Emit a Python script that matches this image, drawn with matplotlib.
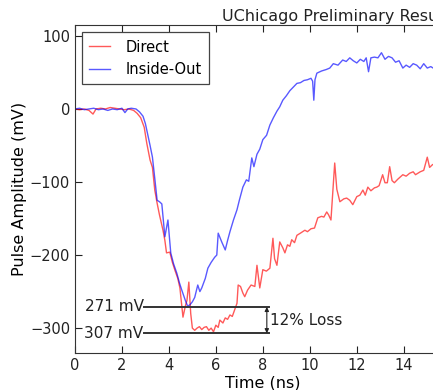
import matplotlib
matplotlib.use('Agg')
import matplotlib.pyplot as plt

# Inside-Out pulse (ns, mV)
blue_t = [0.0, 0.2, 0.4, 0.6, 0.8, 1.0, 1.2, 1.4, 1.6, 1.8, 2.0, 2.13, 2.25, 2.4, 2.6,
          2.75, 2.9, 3.0, 3.1, 3.2, 3.3, 3.4, 3.5, 3.6, 3.7, 3.83, 3.96, 4.08, 4.2, 4.34,
          4.45, 4.55, 4.7, 4.8, 4.9, 5.0, 5.1, 5.23, 5.32, 5.4, 5.55, 5.66, 5.8, 5.95,
          6.04, 6.1, 6.25, 6.4, 6.5, 6.6, 6.75, 6.9, 7.0, 7.15, 7.3, 7.4, 7.53, 7.62,
          7.75, 7.87, 8.0, 8.16, 8.3, 8.45, 8.6, 8.72, 8.85, 9.0, 9.15, 9.3, 9.45, 9.6,
          9.75, 9.9, 10.05, 10.12, 10.17, 10.22, 10.3, 10.5, 10.7, 10.85, 11.0, 11.2,
          11.4, 11.55, 11.7, 11.85, 12.0, 12.15, 12.3, 12.4, 12.5, 12.6, 12.75, 12.9,
          13.05, 13.2, 13.35, 13.5, 13.65, 13.8, 13.96, 14.1, 14.25, 14.4, 14.55, 14.7,
          14.85, 15.0, 15.15, 15.3, 15.5, 16.0]
blue_v = [0, 1, -1, 0, 1, -1, 0, -2, 0, -1, 1, -5, 0, 1, 0,
          -4, -10, -20, -35, -50, -66, -95, -125, -127, -130, -175, -152, -197, -212, -225,
          -238, -248, -262, -270, -268, -264, -258, -241, -250, -245, -232, -218, -210, -203,
          -200, -170, -182, -193, -180, -168, -152, -138, -125, -107, -97, -99, -67, -79,
          -62, -55, -42, -36, -22, -12, -3, 3, 12, 18, 25, 30, 35, 36,
          39, 40, 42, 38, 12, 40, 49, 52, 54, 56, 62, 60,
          67, 65, 70, 66, 63, 68, 65, 70, 51, 70, 71, 70,
          77, 68, 72, 70, 64, 66, 56, 60, 57, 62, 60, 55,
          62, 56, 58, 55, 58, 56]

# Direct pulse (ns, mV)
red_t = [0.0, 0.2, 0.4, 0.6, 0.77, 0.9, 1.1, 1.3, 1.5, 1.7, 1.9, 2.1, 2.3, 2.5, 2.65,
         2.8, 2.95, 3.06, 3.2, 3.3, 3.4, 3.5, 3.6, 3.75, 3.83, 3.9, 4.04, 4.15, 4.26,
         4.38, 4.47, 4.6, 4.7, 4.77, 4.85, 4.93, 5.0, 5.1, 5.2, 5.3, 5.4, 5.5, 5.6,
         5.7, 5.8, 5.9, 6.0, 6.1, 6.17, 6.3, 6.4, 6.5, 6.6, 6.7, 6.8, 6.9, 6.95, 7.05,
         7.15, 7.23, 7.35, 7.5, 7.66, 7.75, 7.87, 8.0, 8.15, 8.3, 8.43, 8.5, 8.6, 8.72,
         8.85, 8.94, 9.05, 9.15, 9.23, 9.35, 9.45, 9.6, 9.79, 9.9, 10.05, 10.2, 10.34,
         10.5, 10.6, 10.72, 10.8, 10.9, 11.06, 11.15, 11.28, 11.45, 11.57, 11.7, 11.83,
         12.0, 12.13, 12.26, 12.36, 12.47, 12.6, 12.75, 12.85, 12.95, 13.1, 13.2, 13.3,
         13.4, 13.5, 13.6, 13.75, 13.96, 14.1, 14.25, 14.4, 14.5, 14.7, 14.85, 15.0,
         15.1, 15.23, 15.5, 16.0]
red_v = [0, -1, 0, -2, -7, 0, 1, 0, 2, 1, 0, -1, 0, -2, -6,
         -12, -25, -47, -70, -80, -111, -129, -145, -166, -180, -197, -196, -210, -221,
         -232, -245, -285, -270, -262, -237, -280, -300, -303, -300, -298, -302, -299, -298,
         -303, -300, -305, -296, -299, -289, -293, -286, -288, -282, -284, -275, -266, -241, -243,
         -252, -257, -248, -241, -243, -214, -245, -220, -222, -218, -177, -205, -214, -182,
         -190, -197, -186, -188, -179, -183, -173, -170, -166, -168, -164, -163, -149,
         -147, -148, -141, -145, -152, -74, -110, -127, -123, -122, -125, -131,
         -120, -118, -111, -118, -107, -112, -108, -107, -105, -90, -101, -101,
         -79, -98, -101, -96, -90, -92, -88, -86, -90, -86, -84, -66,
         -80, -76, -78, -74]

levels = [-271, -307]
level_labels = ["271 mV", "307 mV"]

fig = plt.figure(figsize=(4.33, 3.9), dpi=100)
ax = fig.add_axes([0.173, 0.095, 0.868, 0.841])

ax.plot(red_t, red_v, color='red', alpha=0.65, linewidth=1.0, label='Direct')
ax.plot(blue_t, blue_v, color='blue', alpha=0.65, linewidth=1.0, label='Inside-Out')

# loss annotation
for lv, lab in zip(levels, level_labels):
    ax.plot([2.94, 8.26], [lv, lv], color='#333333', linewidth=1.4)
    ax.text(2.92, lv, lab, ha='right', va='center', fontsize=11, color='#222222')
ax.annotate('', xy=(8.17, levels[1]), xytext=(8.17, levels[0]),
            arrowprops=dict(arrowstyle='<|-|>', color='#222222', lw=0.8,
                            mutation_scale=6, shrinkA=0, shrinkB=0))
ax.text(8.3, (levels[0] + levels[1]) / 2, '12% Loss', ha='left', va='center',
        fontsize=11, color='#222222')

ax.set_xlim(0, 16)
ax.set_ylim(-334, 115)
ax.set_xticks([0, 2, 4, 6, 8, 10, 12, 14])
ax.set_yticks([100, 0, -100, -200, -300])
ax.tick_params(direction='in', top=True, right=True, length=5, labelsize=10.5,
               colors='#222222')
for sp in ax.spines.values():
    sp.set_color('#333333')

ax.set_xlabel('Time (ns)', fontsize=11.5, labelpad=2)
ax.set_ylabel('Pulse Amplitude (mV)', fontsize=11.5, labelpad=2)

leg = ax.legend(loc='upper left', fontsize=10.5, fancybox=False, framealpha=1,
                edgecolor='#444444', handlelength=1.4, handletextpad=1.1,
                borderpad=0.5)
leg.get_frame().set_linewidth(0.9)

fig.text(222 / 433, 1 - 21 / 390, 'UChicago Preliminary Results', ha='left',
         va='baseline', fontsize=11.5, color='#222222')

fig.savefig('out.png', dpi=100)
